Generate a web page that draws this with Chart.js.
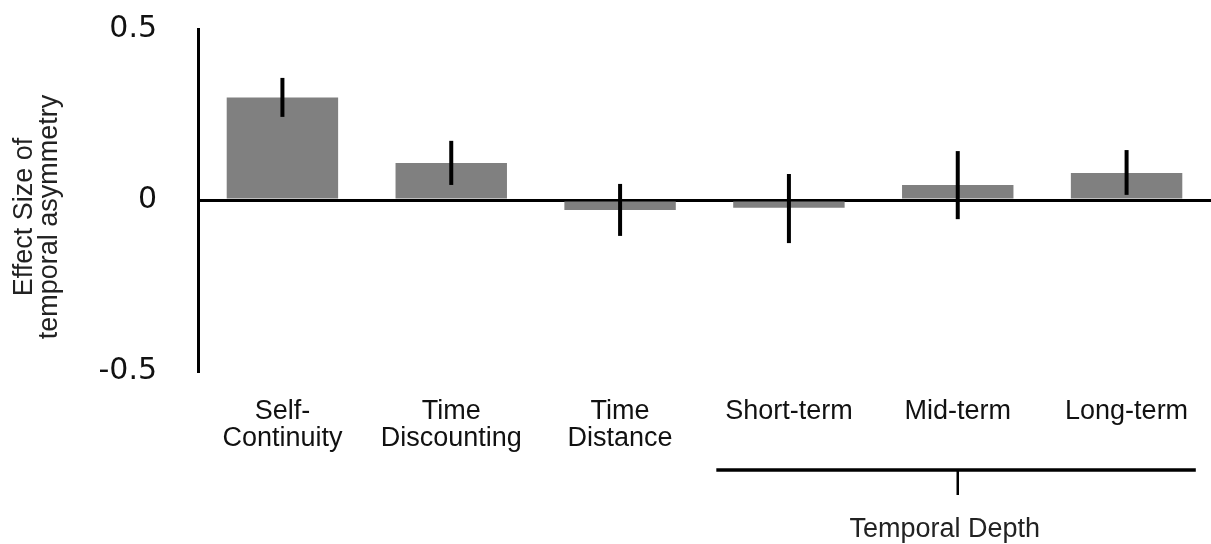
<!DOCTYPE html>
<html>
<head>
<meta charset="utf-8">
<script src="https://cdn.jsdelivr.net/npm/chart.js@4"></script>
<style>
  body{margin:0;background:#fff;}
  #wrap{width:1211px;height:544px;}
</style>
</head>
<body>
<div id="wrap"><canvas id="chart" width="1211" height="544"></canvas></div>
<script>
// Effect size of temporal asymmetry per measure
const categories = [['Self-','Continuity'], ['Time','Discounting'], ['Time','Distance'], 'Short-term', 'Mid-term', 'Long-term'];
const effectSize = [0.30, 0.108, -0.029, -0.023, 0.044, 0.079];
const errHigh = [0.357, 0.173, 0.047, 0.076, 0.143, 0.146];
const errLow = [0.243, 0.044, -0.105, -0.126, -0.056, 0.015];
const yTicks = [-0.5, 0, 0.5];
const yTitle = ['Effect Size of', 'temporal asymmetry'];
const groupLabel = 'Temporal Depth';
const groupFrom = 3, groupTo = 5;

// error bars on top of the bars
const errorBars = {
  id:'errorBars',
  afterDatasetsDraw(chart){
    const c = chart.ctx, xs = chart.scales.x, ys = chart.scales.y;
    c.save(); c.strokeStyle='#000'; c.lineWidth=4;
    effectSize.forEach((v,i)=>{
      const x = xs.getPixelForValue(i);
      c.beginPath(); c.moveTo(x, ys.getPixelForValue(errHigh[i])); c.lineTo(x, ys.getPixelForValue(errLow[i])); c.stroke();
    });
    c.restore();
  }
};

// y title + bracket for temporal depth group
const extras = {
  id:'extras',
  afterDraw(chart){
    const c = chart.ctx, xs = chart.scales.x;
    c.save();
    c.fillStyle='#222'; c.font='27px "Liberation Sans", Arial, sans-serif'; c.textAlign='center'; c.textBaseline='alphabetic';
    c.save(); c.translate(0, 217); c.rotate(-Math.PI/2);
    c.fillText(yTitle[0], 0, 32);
    c.fillText(yTitle[1], 0, 57);
    c.restore();
    const step = xs.getPixelForValue(1) - xs.getPixelForValue(0);
    const x1 = xs.getPixelForValue(groupFrom) - 0.43*step;
    const x2 = xs.getPixelForValue(groupTo) + 0.41*step;
    const xm = (xs.getPixelForValue(groupFrom) + xs.getPixelForValue(groupTo))/2;
    c.strokeStyle='#000'; c.lineWidth=3.5;
    c.beginPath(); c.moveTo(x1, 470); c.lineTo(x2, 470); c.stroke();
    c.lineWidth=2.5;
    c.beginPath(); c.moveTo(xm, 470); c.lineTo(xm, 495); c.stroke();
    c.fillText(groupLabel, xm - 13, 537);
    c.restore();
  }
};

new Chart(document.getElementById('chart').getContext('2d'), {
  type:'bar',
  data:{ labels:categories, datasets:[{ data:effectSize, backgroundColor:'#808080', borderWidth:0, barPercentage:0.66, categoryPercentage:1 }] },
  options:{
    responsive:false, animation:false,
    layout:{ padding:{ top:29, right:0, bottom:0, left:0 } },
    plugins:{ legend:{display:false}, tooltip:{enabled:false} },
    scales:{
      x:{
        grid:{display:false, drawTicks:false}, border:{display:false},
        ticks:{ color:'#111', font:{family:'"Liberation Sans", Arial, sans-serif', size:27, lineHeight:1.0}, padding:27, maxRotation:0, autoSkip:false },
        afterFit(s){ s.height = 173; s.paddingLeft = 0; s.paddingRight = 0; }
      },
      y:{
        min:-0.5, max:0.5, z:1,
        afterBuildTicks(s){ s.ticks = yTicks.map(v=>({value:v})); },
        afterFit(s){ s.width = 198; s.paddingTop = 0; s.paddingBottom = 0; },
        border:{ display:true, color:'#000', width:3 },
        grid:{ drawTicks:false, lineWidth:3, color:(ctx)=> ctx.tick && ctx.tick.value===0 ? '#000' : 'rgba(0,0,0,0)' },
        ticks:{ padding:41, color:'#111', font:{family:'"DejaVu Sans", sans-serif', size:30}, callback:(v)=> v===0 ? '0' : String(v) }
      }
    }
  },
  plugins:[errorBars, extras]
});
</script>
</body>
</html>
